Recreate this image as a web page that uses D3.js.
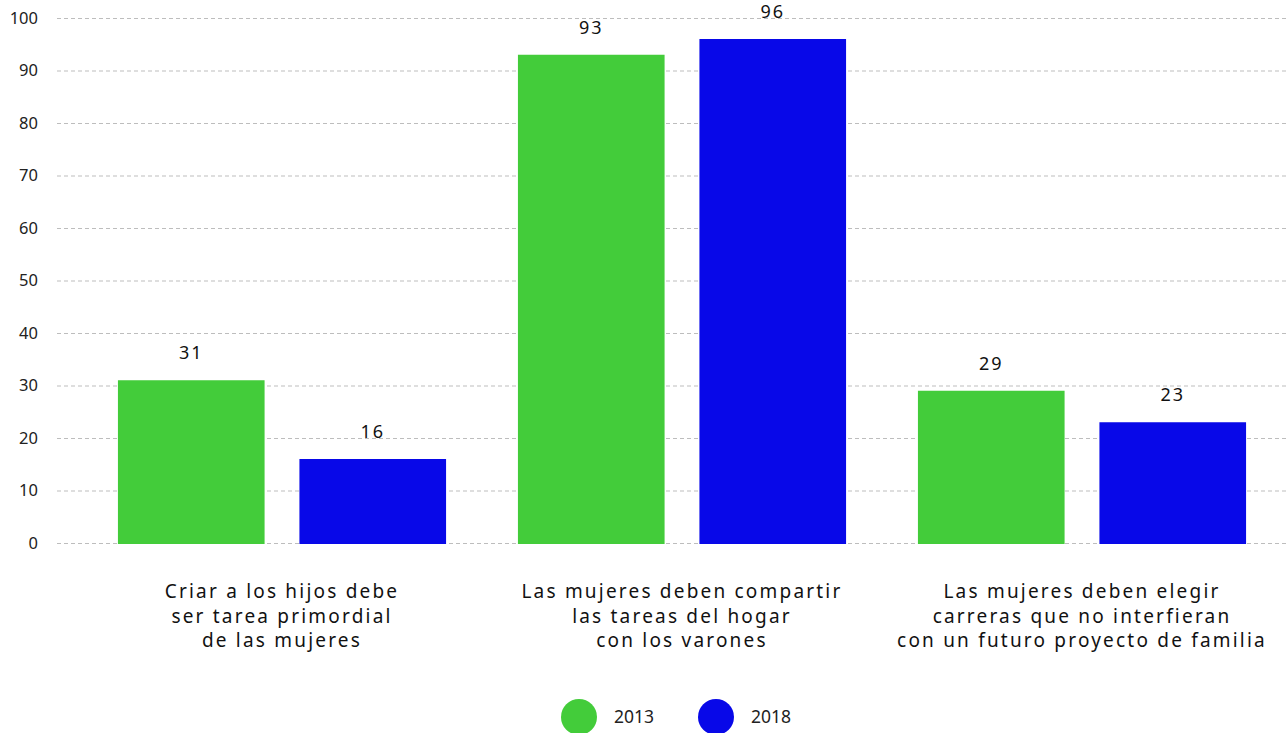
<!DOCTYPE html>
<html><head><meta charset="utf-8">
<script src="https://cdn.jsdelivr.net/npm/d3@7"></script>
<style>body{margin:0;background:#fff;}svg{display:block;}</style>
</head><body>
<svg id="c" width="1286" height="733"></svg>
<script>
const categories = [
  ["Criar a los hijos debe","ser tarea primordial","de las mujeres"],
  ["Las mujeres deben compartir","las tareas del hogar","con los varones"],
  ["Las mujeres deben elegir","carreras que no interfieran","con un futuro proyecto de familia"]
];
const seriesNames = ["2013","2018"];
const values2013 = [31, 93, 29];
const values2018 = [16, 96, 23];
const yTicks = [0,10,20,30,40,50,60,70,80,90,100];
const colors = ["#43CC3A","#0808E8"];

const svg = d3.select("#c");
const y = d3.scaleLinear().domain([0,100]).range([543,18]);
const x0 = d3.scaleBand().domain(d3.range(categories.length)).range([82,1282]);
const x1 = d3.scaleBand().domain(seriesNames).range([0,x0.bandwidth()]).paddingInner(0.192).paddingOuter(0.198);
const seriesVals = [values2013, values2018];

// grid
const grid = svg.append("g");
grid.selectAll("line").data(yTicks).join("line")
  .attr("x1",57).attr("x2",1286)
  .attr("y1",d=>y(d)+0.5).attr("y2",d=>y(d)+0.5)
  .attr("stroke","#bdbdbd").attr("stroke-width",1).attr("stroke-dasharray","4,3");
grid.selectAll("text").data(yTicks).join("text")
  .attr("x",38).attr("y",d=>y(d)).attr("dy","0.35em")
  .attr("text-anchor","end")
  .attr("font-family","'Noto Sans', sans-serif").attr("font-size",16.5).attr("fill","#222")
  .text(d=>d);

// bars
const groups = svg.append("g").selectAll("g").data(categories).join("g")
  .attr("transform",(d,i)=>`translate(${x0(i)},0)`);
groups.each(function(cat,i){
  const g = d3.select(this);
  seriesNames.forEach((s,j)=>{
    const v = seriesVals[j][i];
    g.append("rect").attr("x",x1(s)).attr("width",x1.bandwidth())
      .attr("y",y(v)).attr("height",y(0)-y(v)+1).attr("fill",colors[j]);
    g.append("text").attr("x",x1(s)+x1.bandwidth()/2).attr("y",y(v)-21)
      .attr("text-anchor","middle")
      .attr("font-family","'Noto Sans', sans-serif").attr("font-size",18)
      .attr("letter-spacing","2px").attr("fill","#111").text(v);
  });
  const t = g.append("text").attr("text-anchor","middle")
    .attr("font-family","'Noto Sans', sans-serif").attr("font-size",19)
    .attr("letter-spacing","2.2px").attr("fill","#111");
  cat.forEach((line,k)=>{
    t.append("tspan").attr("x",x0.bandwidth()/2).attr("y",598+k*24.5).text(line);
  });
});

// legend
const legend = svg.append("g");
const legX = [579, 716];
seriesNames.forEach((s,j)=>{
  legend.append("circle").attr("cx",legX[j]).attr("cy",717).attr("r",18).attr("fill",colors[j]);
  legend.append("text").attr("x",legX[j]+35).attr("y",717).attr("dy","0.35em")
    .attr("font-family","'Noto Sans', sans-serif").attr("font-size",17.5).attr("fill","#222").text(s);
});
</script>
</body></html>
